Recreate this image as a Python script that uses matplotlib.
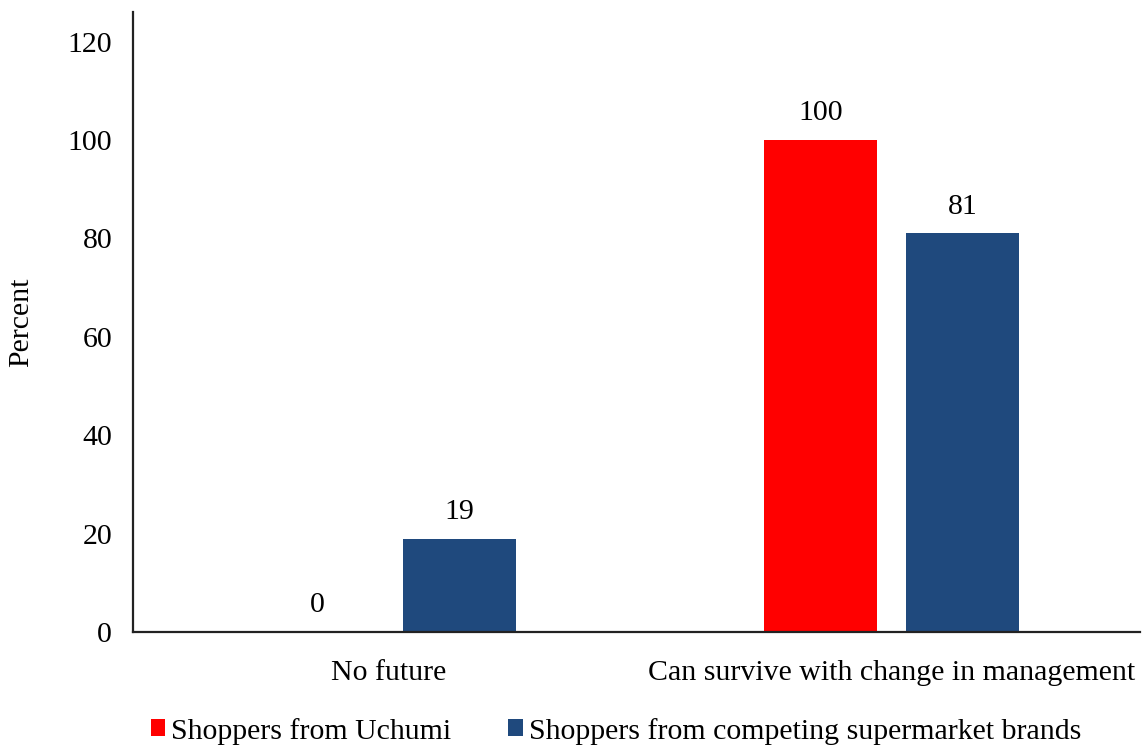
import matplotlib.pyplot as plt
import numpy as np

categories = ['No future', 'Can survive with change in management']
uchumi = [0, 100]
competing = [19, 81]
series_names = ['Shoppers from Uchumi', 'Shoppers from competing supermarket brands']
colors = ['#FF0000', '#1F497D']
yticks = [0, 20, 40, 60, 80, 100, 120]

plt.rcParams['font.family'] = ['Liberation Serif', 'DejaVu Serif']
fs = 21.5

fig = plt.figure(figsize=(11.43, 7.46), dpi=100)
ax = fig.add_axes([133 / 1143, 114 / 746, 1007 / 1143, 620 / 746])

x = np.arange(len(categories))
w = 0.224
off = 0.141
b1 = ax.bar(x - off, uchumi, w, color=colors[0], label=series_names[0])
b2 = ax.bar(x + off, competing, w, color=colors[1], label=series_names[1])

for bars, vals in ((b1, uchumi), (b2, competing)):
    for rect, v in zip(bars, vals):
        ax.annotate(str(v), (rect.get_x() + rect.get_width() / 2, v),
                    xytext=(0, 10), textcoords='offset points',
                    ha='center', va='bottom', fontsize=fs)

ax.set_xlim(-0.508, 1.494)
ax.set_ylim(0, 126)
ax.set_yticks(yticks)
ax.set_xticks(x)
ax.set_xticklabels(categories)
ax.tick_params(axis='both', length=0, labelsize=fs, colors='black')
ax.tick_params(axis='y', pad=15)
ax.tick_params(axis='x', pad=20)
ax.set_ylabel('Percent', fontsize=fs, labelpad=24)

for s in ('top', 'right'):
    ax.spines[s].set_visible(False)
for s in ('left', 'bottom'):
    ax.spines[s].set_linewidth(1.6)
    ax.spines[s].set_color('#222222')

fig.legend(loc='center', bbox_to_anchor=(0.539, 0.02), ncol=2, frameon=False,
           fontsize=fs, handlelength=0.5, handleheight=0.5, handletextpad=0.2,
           columnspacing=1.9, borderaxespad=0)

fig.savefig('out.png', dpi=100)
